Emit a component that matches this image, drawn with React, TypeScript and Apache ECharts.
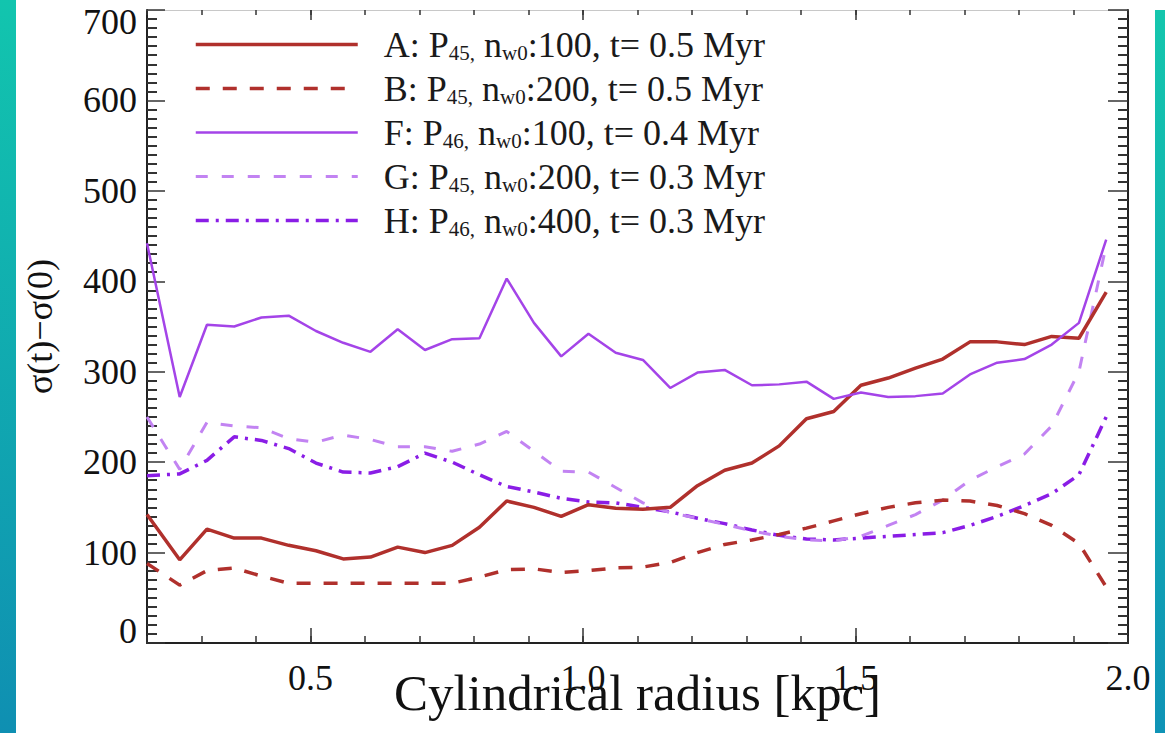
import React, { useEffect, useRef } from 'react';
import * as echarts from 'echarts';

// Cylindrical radius [kpc] sample positions
const radius = [0.2, 0.26, 0.31, 0.36, 0.41, 0.46, 0.51, 0.56, 0.61, 0.66, 0.71, 0.76, 0.81, 0.86, 0.91, 0.96, 1.01, 1.06, 1.11, 1.16, 1.21, 1.26, 1.31, 1.36, 1.41, 1.46, 1.51, 1.56, 1.61, 1.66, 1.71, 1.76, 1.81, 1.86, 1.91, 1.96];

const seriesA = [142, 92, 126, 116, 116, 108, 102, 93, 95, 106, 100, 108, 128, 157, 150, 140, 153, 149, 148, 150, 174, 191, 199, 218, 248, 256, 285, 293, 304, 314, 333, 333, 330, 339, 337, 388];
const seriesB = [88, 64, 80, 83, 74, 66, 66, 66, 66, 66, 66, 66, 73, 81, 82, 78, 80, 83, 84, 89, 100, 109, 114, 120, 127, 135, 143, 150, 155, 158, 157, 152, 143, 130, 110, 62];
const seriesF = [442, 272, 352, 350, 360, 362, 345, 332, 322, 347, 324, 336, 337, 403, 354, 317, 342, 321, 313, 282, 299, 302, 285, 286, 289, 270, 277, 272, 273, 276, 297, 310, 314, 330, 354, 446];
const seriesG = [250, 192, 244, 240, 238, 226, 222, 230, 225, 217, 217, 212, 220, 234, 212, 190, 189, 172, 155, 144, 138, 131, 124, 118, 114, 113, 118, 130, 142, 158, 180, 195, 209, 240, 300, 440];
const seriesH = [185, 187, 202, 228, 224, 215, 199, 189, 188, 195, 210, 200, 186, 173, 167, 160, 156, 155, 150, 145, 138, 132, 125, 119, 115, 114, 116, 118, 120, 122, 130, 140, 152, 165, 186, 250];

const seriesNames = ['A', 'B', 'F', 'G', 'H'];
// legend label parts: [prefix, subscript of P, " n", subscript of n, rest]
const legendParts: Record<string, string[]> = {
  A: ['A: P', '45,', ' n', 'w0', ':100, t= 0.5 Myr'],
  B: ['B: P', '45,', ' n', 'w0', ':200, t= 0.5 Myr'],
  F: ['F: P', '46,', ' n', 'w0', ':100, t= 0.4 Myr'],
  G: ['G: P', '45,', ' n', 'w0', ':200, t= 0.3 Myr'],
  H: ['H: P', '46,', ' n', 'w0', ':400, t= 0.3 Myr'],
};

const xLabelValues = [0.5, 1.0, 1.5, 2.0];
const xMajorTicks = [0.5, 1.0, 1.5];

const FONT = 'Liberation Serif, DejaVu Serif, serif';
const RED = '#b0302c';
const PURPLE_F = '#a444e8';
const PURPLE_G = '#c283f2';
const PURPLE_H = '#8a1de6';

export default function App() {
  const ref = useRef<HTMLDivElement>(null);

  useEffect(() => {
    document.body.style.margin = '0';
    if (!ref.current) return;
    const chart = echarts.init(ref.current, undefined, { renderer: 'svg' });
    const pts = (vals: number[]) => radius.map((x, i) => [x, vals[i]]);
    const tickStyle = { color: '#333', width: 1.5 };

    const mk = (name: string, vals: number[], color: string, width: number, type: any, z: number) => ({
      name,
      type: 'line',
      data: pts(vals),
      symbol: 'none',
      showSymbol: false,
      xAxisIndex: 0,
      yAxisIndex: 0,
      z,
      lineStyle: { color, width, type },
      itemStyle: { color },
    });

    chart.setOption({
      animation: false,
      backgroundColor: '#ffffff',
      textStyle: { fontFamily: FONT },
      grid: { left: 147, right: 37, top: 10, bottom: 90, containLabel: false, outerBoundsMode: 'none' },
      graphic: [
        {
          type: 'rect',
          shape: { x: 0, y: 0, width: 16, height: 733 },
          style: {
            fill: new echarts.graphic.LinearGradient(0, 0, 0, 1, [
              { offset: 0, color: '#12c5ae' },
              { offset: 1, color: '#0f8fb2' },
            ]),
          },
          silent: true,
        },
        {
          type: 'rect',
          shape: { x: 1155, y: 10, width: 10, height: 723 },
          style: {
            fill: new echarts.graphic.LinearGradient(0, 0, 0, 1, [
              { offset: 0, color: '#14c6ad' },
              { offset: 1, color: '#0f93b6' },
            ]),
          },
          silent: true,
        },
      ],
      legend: {
        orient: 'vertical',
        left: 194,
        top: 26,
        padding: 0,
        itemWidth: 162,
        itemHeight: 2,
        itemGap: 7,
        selectedMode: false,
        data: seriesNames,
        itemStyle: { opacity: 0 },
        lineStyle: { width: 'inherit', type: 'inherit', opacity: 1 },
        formatter: (name: string) => {
          const p = legendParts[name];
          return `{p|${p[0]}}{s|${p[1]}}{n|${p[2]}}{s|${p[3]}}{n|${p[4]}}`;
        },
        textStyle: {
          fontFamily: FONT,
          fontSize: 36,
          color: '#1a1a1a',
          rich: {
            p: { fontFamily: FONT, fontSize: 36, lineHeight: 40, color: '#1a1a1a', padding: [0, 0, 0, 21] },
            n: { fontFamily: FONT, fontSize: 36, lineHeight: 40, color: '#1a1a1a' },
            s: { fontFamily: FONT, fontSize: 21, lineHeight: 24, color: '#1a1a1a', padding: [16, 0, 0, 0] },
          },
        },
      },
      xAxis: [
        {
          type: 'value',
          position: 'bottom',
          min: 0.2,
          max: 2.0,
          interval: 0.1,
          axisLine: { show: true, onZero: false, lineStyle: { color: '#222', width: 2 } },
          axisTick: { show: true, inside: true, length: 7, lineStyle: tickStyle },
          axisLabel: {
            show: true,
            customValues: xLabelValues,
            formatter: (v: number) => v.toFixed(1),
            fontSize: 36,
            fontFamily: FONT,
            color: '#111',
            margin: 17,
          },
          splitLine: { show: false },
          name: 'Cylindrical radius [kpc]',
          nameLocation: 'middle',
          nameGap: 24,
          nameMoveOverlap: false,
          nameTextStyle: { fontSize: 51, fontFamily: FONT, color: '#111' },
        },
        {
          type: 'value',
          position: 'bottom',
          min: 0.2,
          max: 2.0,
          axisLine: { show: false, onZero: false },
          axisTick: { show: true, inside: true, length: 15, customValues: xMajorTicks, lineStyle: tickStyle },
          axisLabel: { show: false },
          splitLine: { show: false },
        },
        {
          type: 'value',
          position: 'top',
          min: 0.2,
          max: 2.0,
          interval: 0.1,
          axisLine: { show: true, onZero: false, lineStyle: { color: '#c8c8c8', width: 1 } },
          axisTick: { show: true, inside: true, length: 5, lineStyle: tickStyle },
          axisLabel: { show: false },
          splitLine: { show: false },
        },
        {
          type: 'value',
          position: 'top',
          min: 0.2,
          max: 2.0,
          axisLine: { show: false, onZero: false },
          axisTick: { show: true, inside: true, length: 10, customValues: xMajorTicks, lineStyle: tickStyle },
          axisLabel: { show: false },
          splitLine: { show: false },
        },
      ],
      yAxis: [
        {
          type: 'value',
          position: 'left',
          min: 0,
          max: 700,
          interval: 100,
          axisLine: { show: true, onZero: false, lineStyle: { color: '#222', width: 2 } },
          axisTick: { show: true, inside: true, length: 18, lineStyle: tickStyle },
          minorTick: { show: true, splitNumber: 10, length: 10, lineStyle: { color: '#333', width: 2 } },
          axisLabel: {
            fontSize: 36,
            lineHeight: 24,
            fontFamily: FONT,
            color: '#111',
            margin: 10,
            verticalAlignMinLabel: 'bottom',
            verticalAlignMaxLabel: 'top',
          },
          splitLine: { show: false },
          name: 'σ(t)−σ(0)',
          nameLocation: 'middle',
          nameRotate: 90,
          nameGap: 89,
          nameMoveOverlap: false,
          nameTextStyle: { fontSize: 36, fontFamily: FONT, color: '#111' },
        },
        {
          type: 'value',
          position: 'right',
          min: 0,
          max: 700,
          interval: 100,
          axisLine: { show: true, onZero: false, lineStyle: { color: '#222', width: 2 } },
          axisTick: { show: true, inside: true, length: 20, lineStyle: tickStyle },
          minorTick: { show: true, splitNumber: 10, length: 10, lineStyle: { color: '#333', width: 2 } },
          axisLabel: { show: false },
          splitLine: { show: false },
        },
      ],
      series: [
        mk('A', seriesA, RED, 3.5, 'solid', 5),
        mk('B', seriesB, RED, 3.5, [14, 13], 4),
        mk('F', seriesF, PURPLE_F, 2.5, 'solid', 6),
        mk('G', seriesG, PURPLE_G, 3, [12, 14], 3),
        mk('H', seriesH, PURPLE_H, 3.5, [13, 7, 3, 7], 2),
      ],
    });
    return () => chart.dispose();
  }, []);

  return <div ref={ref} style={{ width: 1165, height: 733 }} />;
}
